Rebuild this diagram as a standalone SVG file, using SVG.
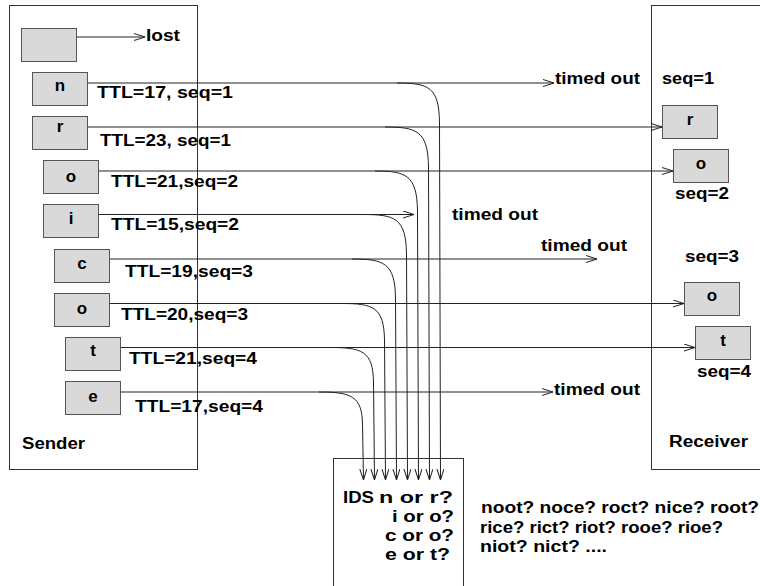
<svg xmlns="http://www.w3.org/2000/svg" width="760" height="586" viewBox="0 0 760 586">
<style>
  text { font-family: "Liberation Sans", Arial, Helvetica, sans-serif; font-weight: bold; font-size: 16px; fill: #000; }
  .c { text-anchor: middle; font-size: 17px; }
  .frame { fill: #fff; stroke: #333; stroke-width: 1; }
  .pkt { fill: #d9d9d9; stroke: #555; stroke-width: 1; }
  .ln { fill: none; stroke: #222; stroke-width: 1; }
  .arr { marker-end: url(#ah); }
</style>
<defs>
  <marker id="ah" viewBox="0 0 11 8" refX="11" refY="4" markerWidth="11" markerHeight="8" markerUnits="userSpaceOnUse" orient="auto">
    <path d="M0,0.5 L11,4 L0,7.5" fill="none" stroke="#222" stroke-width="1"/>
  </marker>
</defs>
<rect width="760" height="586" fill="#fff"/>

<g id="sender">
  <rect class="frame" x="9.5" y="5.5" width="188" height="464"/>
  <text x="22" y="449" textLength="63" lengthAdjust="spacingAndGlyphs">Sender</text>
</g>
<g id="receiver">
  <rect class="frame" x="651.5" y="5.5" width="130" height="464"/>
  <text x="669" y="447" textLength="79" lengthAdjust="spacingAndGlyphs">Receiver</text>
</g>
<g id="ids">
  <rect class="frame" x="333.5" y="458.5" width="130" height="140"/>
  <text x="343" y="503" textLength="31" lengthAdjust="spacingAndGlyphs">IDS</text>
  <text x="379" y="503" textLength="74" lengthAdjust="spacingAndGlyphs">n or r?</text>
  <text x="392" y="522" textLength="62" lengthAdjust="spacingAndGlyphs">i or o?</text>
  <text x="385" y="541" textLength="69" lengthAdjust="spacingAndGlyphs">c or o?</text>
  <text x="385" y="560" textLength="65" lengthAdjust="spacingAndGlyphs">e or t?</text>
</g>
<g id="guesses">
  <text x="481" y="513" textLength="278" lengthAdjust="spacingAndGlyphs">noot? noce? roct? nice? root?</text>
  <text x="480" y="533" textLength="243" lengthAdjust="spacingAndGlyphs">rice? rict? riot? rooe? rioe?</text>
  <text x="480" y="552" textLength="127" lengthAdjust="spacingAndGlyphs">niot? nict? ....</text>
</g>

<g id="connectors">
  <line class="ln arr" x1="76" y1="37" x2="145" y2="37"/>
  <line class="ln arr" x1="87" y1="83" x2="554" y2="83"/>
  <line class="ln arr" x1="87" y1="127" x2="662" y2="127"/>
  <line class="ln arr" x1="99" y1="171" x2="673" y2="171"/>
  <line class="ln arr" x1="99" y1="214.5" x2="414" y2="214.5"/>
  <line class="ln arr" x1="109" y1="259" x2="597" y2="259"/>
  <line class="ln arr" x1="109" y1="303.5" x2="684" y2="303.5"/>
  <line class="ln arr" x1="121" y1="347.5" x2="695" y2="347.5"/>
  <line class="ln arr" x1="121" y1="392" x2="553" y2="392"/>
  <path class="ln arr" d="M397,83 C429,83 439,87 439.5,123 L440.5,480"/>
  <path class="ln arr" d="M385,127 C417,127 428,131 428.5,167 L429.5,480"/>
  <path class="ln arr" d="M375,171 C406,171 417,175 417.5,211 L418.5,480"/>
  <path class="ln arr" d="M363,214.5 C395,214.5 406,218 406.5,254 L407.5,480"/>
  <path class="ln arr" d="M352,259 C384,259 395,263 395.5,298 L396.5,480"/>
  <path class="ln arr" d="M342,303.5 C373,303.5 384,307 384.5,340 L385.5,480"/>
  <path class="ln arr" d="M330,347.5 C362,347.5 373,351 373.5,382 L374.5,480"/>
  <path class="ln arr" d="M319,392 C351,392 362,396 362.5,424 L363.5,480"/>
</g>

<g id="lost">
  <rect class="pkt" x="21.5" y="28.5" width="55" height="33"/>
  <text x="146" y="41" textLength="34" lengthAdjust="spacingAndGlyphs">lost</text>
</g>
<g id="pkt-n">
  <rect class="pkt" x="32.5" y="72.5" width="55" height="33"/>
  <text class="c" x="60" y="90.5">n</text>
  <text x="97" y="98" textLength="136" lengthAdjust="spacingAndGlyphs">TTL=17, seq=1</text>
</g>
<g id="pkt-r">
  <rect class="pkt" x="32.5" y="116.5" width="55" height="33"/>
  <text class="c" x="60" y="132">r</text>
  <text x="100" y="146" textLength="131" lengthAdjust="spacingAndGlyphs">TTL=23, seq=1</text>
</g>
<g id="pkt-o1">
  <rect class="pkt" x="43.5" y="160.5" width="55" height="33"/>
  <text class="c" x="71" y="182">o</text>
  <text x="111" y="186.5" textLength="127" lengthAdjust="spacingAndGlyphs">TTL=21,seq=2</text>
</g>
<g id="pkt-i">
  <rect class="pkt" x="43.5" y="204.5" width="55" height="33"/>
  <text class="c" x="71" y="224">i</text>
  <text x="111" y="230" textLength="128" lengthAdjust="spacingAndGlyphs">TTL=15,seq=2</text>
</g>
<g id="pkt-c">
  <rect class="pkt" x="54.5" y="249.5" width="55" height="33"/>
  <text class="c" x="82" y="269">c</text>
  <text x="125" y="277" textLength="128" lengthAdjust="spacingAndGlyphs">TTL=19,seq=3</text>
</g>
<g id="pkt-o2">
  <rect class="pkt" x="54.5" y="293.5" width="55" height="33"/>
  <text class="c" x="82" y="314">o</text>
  <text x="121" y="319.5" textLength="127" lengthAdjust="spacingAndGlyphs">TTL=20,seq=3</text>
</g>
<g id="pkt-t">
  <rect class="pkt" x="65.5" y="337.5" width="55" height="33"/>
  <text class="c" x="93" y="356">t</text>
  <text x="129" y="364" textLength="128" lengthAdjust="spacingAndGlyphs">TTL=21,seq=4</text>
</g>
<g id="pkt-e">
  <rect class="pkt" x="65.5" y="381.5" width="55" height="33"/>
  <text class="c" x="93" y="402">e</text>
  <text x="135" y="412" textLength="128" lengthAdjust="spacingAndGlyphs">TTL=17,seq=4</text>
</g>

<g id="timeouts">
  <text x="555" y="84" textLength="85" lengthAdjust="spacingAndGlyphs">timed out</text>
  <text x="452" y="220" textLength="86" lengthAdjust="spacingAndGlyphs">timed out</text>
  <text x="541" y="251" textLength="86" lengthAdjust="spacingAndGlyphs">timed out</text>
  <text x="554" y="395" textLength="86" lengthAdjust="spacingAndGlyphs">timed out</text>
</g>

<g id="recv-r">
  <rect class="pkt" x="662.5" y="105.5" width="55" height="33"/>
  <text class="c" x="690" y="125">r</text>
  <text x="662" y="84" textLength="52" lengthAdjust="spacingAndGlyphs">seq=1</text>
</g>
<g id="recv-o1">
  <rect class="pkt" x="673.5" y="149.5" width="55" height="33"/>
  <text class="c" x="701" y="169">o</text>
  <text x="675" y="199" textLength="54" lengthAdjust="spacingAndGlyphs">seq=2</text>
</g>
<g id="recv-o2">
  <rect class="pkt" x="684.5" y="282.5" width="55" height="33"/>
  <text class="c" x="712" y="301">o</text>
  <text x="685" y="262" textLength="54" lengthAdjust="spacingAndGlyphs">seq=3</text>
</g>
<g id="recv-t">
  <rect class="pkt" x="695.5" y="326.5" width="55" height="33"/>
  <text class="c" x="723" y="346">t</text>
  <text x="697" y="377" textLength="54" lengthAdjust="spacingAndGlyphs">seq=4</text>
</g>
</svg>
